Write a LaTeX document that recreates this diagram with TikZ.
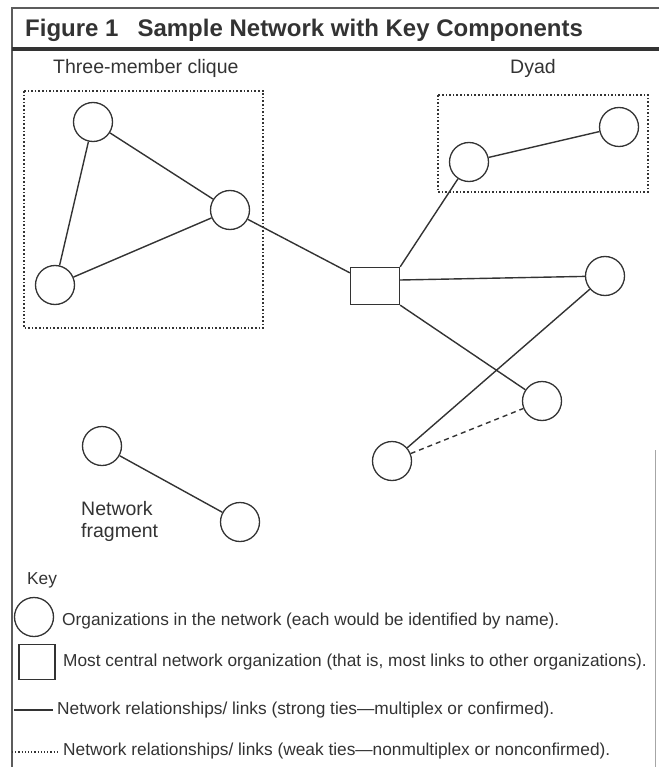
\documentclass[tikz,border=0pt]{standalone}
\usepackage{fontspec}
\setmainfont{Liberation Sans}
\usetikzlibrary{positioning}
\definecolor{ink}{HTML}{333333}

\begin{document}
\begin{tikzpicture}[x=1pt, y=-1pt,
    org/.style={circle, draw=ink, line width=1.3pt, minimum size=39pt, inner sep=0pt},
    hub/.style={rectangle, draw=ink, line width=1.3pt, minimum width=49pt, minimum height=37pt, inner sep=0pt},
    tie/.style={draw=ink, line width=1.4pt},
    weak/.style={draw=ink, line width=1.4pt, dash pattern=on 5pt off 4pt},
    group/.style={draw=ink, line width=1.6pt, dotted},
    lbl/.style={font=\fontsize{19.5}{22}\selectfont, text=ink, inner sep=0pt},
    keytext/.style={font=\fontsize{17.3}{20}\selectfont, text=ink, anchor=west, inner sep=0pt}]
    \useasboundingbox (0,0) rectangle (659,767);
    % frame and title bar
    \draw[ink!80, line width=1.5pt] (659,8) -- (12,8) -- (12,767);
    \draw[ink, line width=4.5pt] (12,49) -- (659,49);
    \draw[gray!70, line width=1pt] (655,450) -- (655,767);
    \node[anchor=west, inner sep=0pt, text=ink, font=\fontsize{24}{27}\selectfont\bfseries] (title) at (25,30) {Figure 1\hspace{19pt}Sample Network with Key Components};

    % groups
    \node[lbl, anchor=west] (cliquelbl) at (53,68) {Three-member clique};
    \node[lbl, anchor=west] (dyadlbl) at (510,68) {Dyad};
    \draw[group] (24,91) rectangle (263,328);
    \draw[group] (438,95) rectangle (648,192);

    % organizations
    \node[org] (ctop) at (93,122) {};
    \node[org] (cright) at (230,210) {};
    \node[org] (cleft) at (55,285) {};
    \node[hub] (hub) at (375,286) {};
    \node[org] (dnear) at (469,162) {};
    \node[org] (dfar) at (619,127) {};
    \node[org] (east) at (605,276) {};
    \node[org] (south) at (542,401) {};
    \node[org] (southwest) at (392,461) {};
    \node[org] (fragA) at (102,446) {};
    \node[org] (fragB) at (240,522) {};
    \node[lbl, anchor=west, align=left] (fraglbl) at (81,521) {Network\\fragment};

    % links
    \draw[tie] (ctop) -- (cright) (ctop) -- (cleft) (cleft) -- (cright) (cright) -- (hub);
    \draw[tie] (hub.north east) -- (dnear) (dnear) -- (dfar);
    \draw[tie] ([yshift=6pt]hub.east) -- (east) (hub.south east) -- (south) (east) -- (southwest);
    \draw[weak] (southwest) -- (south);
    \draw[tie] (fragA) -- (fragB);

    % key
    \node[keytext] (keyhead) at (27,580) {Key};
    \node[org] (keyorg) at (34,617) {};
    \node[keytext] (keyorgtxt) at (62,621) {Organizations in the network (each would be identified by name).};
    \node[hub, minimum width=36pt, minimum height=35pt] (keyhub) at (37,662) {};
    \node[keytext] (keyhubtxt) at (63,662) {Most central network organization (that is, most links to other organizations).};
    \coordinate (strongA) at (14,710);
    \coordinate (strongB) at (53,710);
    \draw[tie] (strongA) -- (strongB);
    \node[keytext] (strongtxt) at (57,710) {Network relationships/ links (strong ties---multiplex or confirmed).};
    \coordinate (weakA) at (12,752);
    \coordinate (weakB) at (57,752);
    \draw[ink, line width=1.2pt, dotted] (weakA) -- (weakB);
    \node[keytext] (weaktxt) at (63,751) {Network relationships/ links (weak ties---nonmultiplex or nonconfirmed).};
\end{tikzpicture}
\end{document}
